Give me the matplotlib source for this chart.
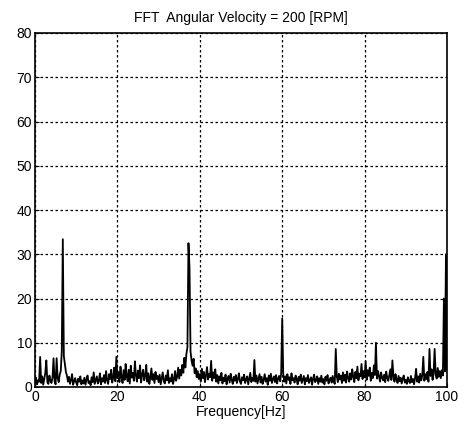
import numpy as np
import matplotlib
matplotlib.use("Agg")
import matplotlib.pyplot as plt

title = "FFT  Angular Velocity = 200 [RPM]"
xlabel = "Frequency[Hz]"
x_ticks = [0, 20, 40, 60, 80, 100]
y_ticks = [0, 10, 20, 30, 40, 50, 60, 70, 80]
freq_step = 0.25

amp_0_5 = [0.8, 2.1, 0.6, 1.5, 1.2, 6.8, 0.9, 2.4, 0.5, 1.8, 3.2, 6.0, 1.1, 0.7, 2.6, 1.4, 0.9, 2.2, 6.5, 1.3]
amp_5_10 = [0.6, 6.5, 2.0, 1.1, 2.8, 3.6, 8.0, 33.4, 7.0, 5.2, 3.4, 2.6, 1.2, 2.3, 0.7, 1.6, 2.9, 0.5, 1.3, 2.0]
amp_10_15 = [1.0, 0.4, 1.9, 1.2, 2.4, 0.6, 1.5, 0.8, 2.1, 0.5, 1.7, 2.6, 0.9, 1.3, 0.4, 2.2, 1.1, 3.3, 0.7, 1.6]
amp_15_20 = [2.4, 0.8, 1.4, 3.1, 0.6, 2.0, 1.2, 2.7, 0.9, 3.6, 1.5, 0.7, 2.9, 1.8, 3.9, 1.0, 2.3, 4.4, 1.3, 6.8]
amp_20_25 = [2.0, 3.4, 1.1, 4.6, 2.2, 0.9, 3.8, 1.6, 5.2, 2.5, 1.3, 3.9, 0.8, 4.8, 2.1, 3.2, 1.4, 5.8, 2.6, 1.2]
amp_25_30 = [3.7, 2.0, 4.9, 1.0, 2.8, 3.9, 1.5, 2.4, 5.0, 1.2, 3.1, 0.7, 2.2, 4.2, 1.6, 2.9, 0.9, 3.4, 1.8, 2.5]
amp_30_35 = [1.1, 2.8, 0.6, 1.9, 3.3, 1.3, 0.8, 2.6, 1.5, 3.8, 0.9, 2.0, 1.2, 2.9, 0.7, 1.7, 3.6, 1.4, 2.3, 4.4]
amp_35_40 = [1.9, 3.9, 2.6, 5.0, 3.2, 6.6, 4.4, 7.5, 9.0, 32.5, 27.0, 8.0, 6.0, 4.8, 6.4, 3.1, 4.2, 2.2, 3.6, 1.8]
amp_40_45 = [2.9, 1.3, 4.1, 2.0, 3.4, 1.1, 2.6, 4.5, 1.7, 3.0, 2.2, 5.9, 1.4, 3.3, 2.0, 4.0, 1.2, 2.7, 0.8, 2.4]
amp_45_50 = [1.5, 3.2, 0.8, 2.1, 1.3, 2.8, 0.6, 1.9, 2.5, 1.0, 3.0, 1.6, 0.7, 2.3, 1.4, 2.7, 0.9, 1.8, 3.1, 1.2]
amp_50_55 = [0.7, 2.2, 1.5, 2.8, 0.9, 1.7, 2.4, 0.6, 1.9, 3.2, 1.1, 2.0, 1.4, 6.1, 1.2, 2.6, 0.8, 1.8, 2.9, 1.0]
amp_55_60 = [2.3, 0.7, 1.6, 2.9, 1.2, 2.0, 0.5, 2.6, 1.4, 3.0, 0.9, 1.8, 2.4, 1.1, 2.7, 0.8, 1.9, 2.5, 1.3, 3.1]
amp_60_65 = [15.5, 3.0, 1.2, 2.4, 0.8, 2.9, 1.6, 2.2, 0.7, 3.1, 1.5, 2.0, 1.0, 2.6, 1.8, 0.6, 2.3, 1.4, 2.8, 0.9]
amp_65_70 = [1.7, 2.5, 0.6, 2.0, 1.3, 2.7, 0.9, 1.6, 2.2, 0.5, 1.9, 2.8, 1.1, 1.5, 2.4, 0.7, 2.0, 1.2, 2.6, 1.0]
amp_70_75 = [1.8, 0.6, 2.3, 1.4, 2.7, 0.8, 1.6, 2.1, 1.0, 2.5, 1.3, 0.7, 8.6, 2.4, 1.1, 3.0, 1.7, 2.6, 0.9, 3.3]
amp_75_80 = [1.4, 2.8, 1.0, 3.5, 2.0, 1.2, 3.1, 1.7, 4.0, 2.3, 1.1, 3.4, 2.0, 4.6, 1.5, 3.0, 2.4, 5.2, 1.8, 3.6]
amp_80_85 = [2.2, 5.8, 1.6, 3.8, 2.5, 4.4, 1.4, 3.2, 2.0, 4.9, 2.7, 10.0, 1.9, 3.6, 2.4, 1.2, 3.3, 2.1, 1.5, 2.8]
amp_85_90 = [1.1, 3.5, 2.0, 1.4, 2.7, 4.0, 1.6, 6.0, 2.3, 1.2, 2.9, 1.7, 0.9, 2.5, 1.3, 2.1, 0.8, 1.9, 2.6, 1.0]
amp_90_95 = [1.6, 0.7, 2.2, 1.3, 0.9, 2.5, 1.1, 1.8, 0.6, 2.0, 4.1, 1.2, 2.4, 1.0, 3.0, 1.5, 2.6, 6.8, 1.4, 2.9]
amp_95_100 = [1.8, 3.4, 1.2, 8.6, 2.5, 4.0, 1.6, 3.2, 8.6, 2.7, 1.9, 4.3, 2.3, 3.6, 2.0, 3.8, 2.6, 20.0, 3.5, 30.0]
amp_100 = [4.0]

amplitude = (amp_0_5 + amp_5_10 + amp_10_15 + amp_15_20 + amp_20_25 + amp_25_30 +
             amp_30_35 + amp_35_40 + amp_40_45 + amp_45_50 + amp_50_55 + amp_55_60 +
             amp_60_65 + amp_65_70 + amp_70_75 + amp_75_80 + amp_80_85 + amp_85_90 +
             amp_90_95 + amp_95_100 + amp_100)
freq = np.arange(len(amplitude)) * freq_step

plt.rcParams['font.family'] = ['Liberation Sans Narrow', 'Liberation Sans', 'DejaVu Sans']

fig = plt.figure(figsize=(4.69, 4.30), dpi=100)
ax = fig.add_axes([35/469, 1 - 387/430, 412/469, 354/430])
ax.plot(freq, amplitude, color='black', lw=1.3)
ax.set_xlim(0, 100)
ax.set_ylim(0, 80)
ax.set_xticks(x_ticks)
ax.set_yticks(y_ticks)
ax.grid(True, color='black', linestyle=(0, (2, 2)), linewidth=0.9)
ax.tick_params(direction='in', length=3, labelsize=10, colors='black', pad=2)
for s in ax.spines.values():
    s.set_linewidth(1.2)
ax.set_title(title, fontsize=10, pad=8)
ax.set_xlabel(xlabel, fontsize=10, labelpad=1)
fig.savefig('out.png', dpi=100)
